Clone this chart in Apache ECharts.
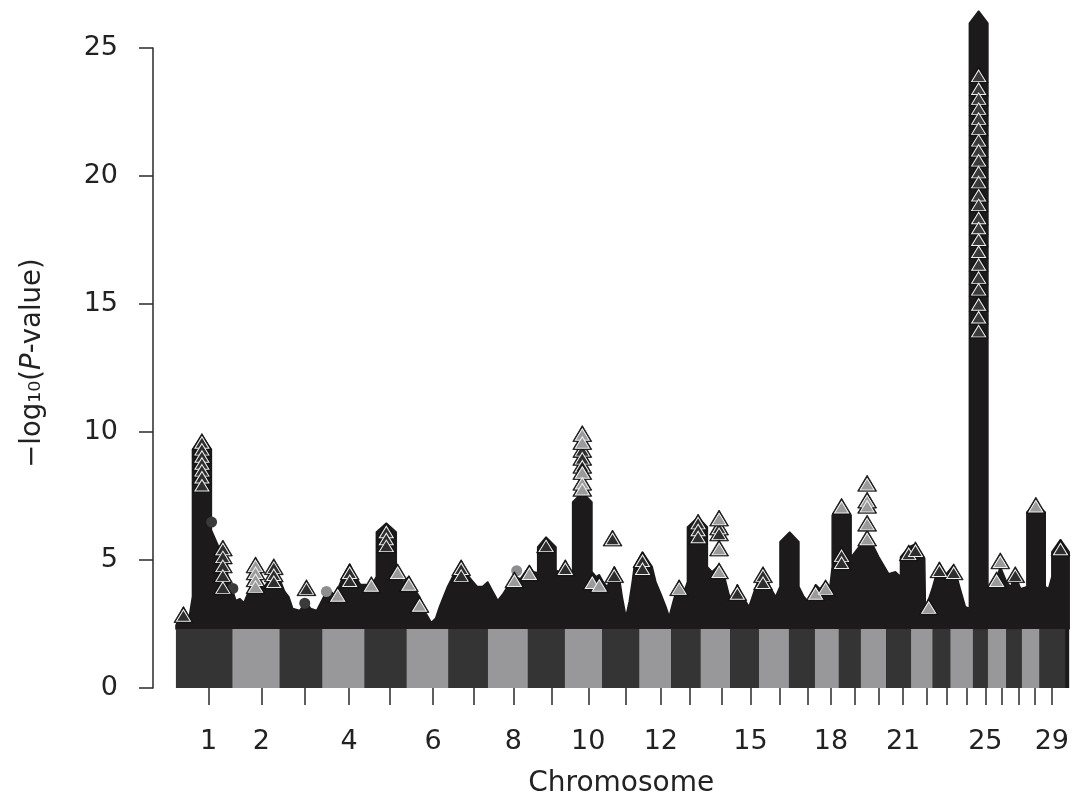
<!DOCTYPE html>
<html>
<head>
<meta charset="utf-8">
<script src="https://cdn.jsdelivr.net/npm/echarts@6/dist/echarts.min.js"></script>
<style>
html,body{margin:0;padding:0;background:#ffffff;}
#chart{width:1072px;height:803px;}
</style>
</head>
<body>
<div id="chart"></div>
<script>
// ---- Data (x: cumulative genome position index, y: -log10(P-value)) ----
const chromosomes = [1,2,3,4,5,6,7,8,9,10,11,12,13,14,15,16,17,18,19,20,21,22,23,24,25,26,27,28,29];
const chrStart = [23,79.5,127,169.5,212,254,296,335.5,375.5,412.5,450,487,519,548.5,578,607,637,663,687,709,734.3,759.3,781,798.7,821.3,836.3,854.7,870.3,888];
const chrEnd   = [79.5,127,169.5,212,254,296,335.5,375.5,412.5,450,487,519,548.5,578,607,637,663,687,709,734.3,759.3,781,798.7,821.3,836.3,854.7,870.3,888,913.7];
const tickPos  = [55.7,108.5,152.5,196.5,237.6,280.5,321,360.9,399,436,473.5,508.7,538,569.2,598.5,627.9,655.5,679,703,727,751.3,774.7,795.3,815.3,833.7,850.3,867,883,900.3];
const labelledChromosomes = [1,2,4,6,8,10,12,15,18,21,25,29];
const yTicks = [0,5,10,15,20,25];
// dense low-significance SNPs form a band from 0 up to this value
const bandValue = 2.3;

// upper envelope of the dense SNP cloud above the band
const skyline = [[23,2.29],[23,2.45],[30.5,3.14],[36,2.72],[39.5,3.57],[39.5,9.32],[49,9.86],[58.5,9.32],[58.5,6.17],[65,5.59],[73,4.66],[83,3.42],[87,3.49],[91,3.34],[97,3.88],[103,4.43],[110,3.88],[115,4.15],[121,4.93],[128,4.15],[132,3.77],[136,3.57],[140,3.11],[147,3.03],[153,3.38],[158,3.11],[164,3.03],[171,3.57],[177,3.84],[181,3.65],[186,3.96],[191,4.43],[197,4.85],[203,4.35],[208,4.04],[213.7,4.04],[218,3.96],[223.7,4.35],[223.7,6.09],[233.7,6.44],[243.7,6.09],[243.7,4.54],[248,4.35],[251,4.15],[256.3,4.35],[262,3.88],[267,3.57],[273.7,2.91],[278.7,2.56],[283,2.72],[287,3.18],[295,3.96],[302,4.50],[308.7,4.97],[315,4.43],[319,4.23],[325,3.96],[330,3.96],[335.3,4.15],[340,3.80],[345.3,3.42],[350,3.65],[355,3.96],[362,4.35],[368,4.27],[377,4.77],[381,4.54],[385.3,4.5],[385.3,5.51],[393.7,5.90],[403.7,5.51],[403.7,4.6],[407,4.54],[413,4.97],[418,4.54],[420.3,4.54],[420.3,7.26],[430,7.65],[439.7,7.26],[439.7,4.54],[444,4.35],[447,4.43],[451,4.15],[455,3.96],[462,4.74],[467,4.35],[470,3.57],[473.7,2.80],[477,3.38],[480,4.15],[482,4.74],[490.3,5.32],[500,4.74],[503.7,4.15],[509,3.65],[513.7,3.18],[517,2.80],[521,3.38],[527,4.19],[532,3.77],[535.3,4.15],[535.3,6.29],[546,6.68],[555.3,6.29],[555.3,4.74],[560,4.54],[567,4.81],[572,4.43],[577,3.65],[580,3.34],[585.3,4.04],[591,3.57],[597,3.18],[603,3.88],[611,4.66],[618,3.96],[623.7,3.57],[628,3.96],[628,5.71],[637.7,6.09],[647,5.71],[647,3.96],[652,3.57],[657,3.34],[663.7,4.04],[668,3.88],[673.7,4.15],[678,3.96],[680.3,4.74],[680.3,6.75],[689.7,7.14],[699.3,6.75],[699.3,5.12],[707,5.51],[715.3,6.02],[722,5.51],[727,5.12],[737,4.46],[743.7,4.54],[748.7,4.35],[748.7,5.12],[757,5.51],[763.7,5.63],[773,5.05],[773.7,3.18],[777,3.49],[781,3.96],[787.7,4.89],[794,4.43],[802,4.81],[808,3.96],[813.7,3.18],[817.7,3.11],[817.7,25.97],[827,26.45],[836.3,25.97],[836.3,3.96],[842,3.96],[848.7,4.74],[855,4.15],[859,3.96],[863.7,4.43],[869,3.88],[875.3,3.96],[875.3,6.87],[884.3,7.18],[893.7,6.87],[893.7,3.96],[897,3.88],[900.3,4.35],[900.3,5.32],[909,5.80],[917.7,5.32],[917.7,2.29]];

// individually visible SNP markers (triangles)
const darkTriangles = [[30.5,2.87],[49,9.63],[49,9.36],[49,9.08],[49,8.81],[49,8.54],[49,8.27],[49,7.96],[70,5.47],[70,5.16],[70,4.81],[70,4.43],[70,3.96],[121,4.74],[121,4.46],[121,4.19],[153.7,3.92],[197,4.54],[197,4.23],[233.7,6.13],[233.7,5.86],[233.7,5.59],[308.7,4.70],[308.7,4.43],[393.7,5.59],[413,4.70],[430,9.32],[430,9.01],[430,8.70],[460.3,5.86],[462,4.43],[490.3,5.01],[490.3,4.70],[546,6.48],[546,6.21],[546,5.94],[567,6.29],[567,6.06],[585.3,3.73],[611,4.43],[611,4.15],[689.7,5.20],[689.7,4.93],[757,5.28],[763.7,5.40],[787.7,4.62],[802,4.54],[863.7,4.43],[909,5.47]];
const grayTriangles = [[102.7,4.81],[102.7,4.54],[102.7,4.27],[102.7,4.00],[185,3.65],[218.7,4.04],[245,4.54],[256.3,4.08],[267,3.26],[362,4.23],[377,4.50],[430,9.94],[430,9.63],[430,8.46],[430,8.04],[430,7.80],[440,4.15],[447,4.04],[527,3.92],[567,6.64],[567,5.47],[567,4.58],[663.7,3.73],[673.7,3.92],[689.7,7.10],[715.3,8.00],[715.3,7.34],[715.3,7.14],[715.3,6.44],[715.3,5.86],[777,3.18],[845,4.23],[848.7,4.97],[884.3,7.14]];
const spikePos = 827;
const spikeValues = [23.95,23.45,23.06,22.67,22.28,21.89,21.43,21.04,20.65,20.19,19.80,19.29,18.91,18.40,18.01,17.55,17.08,16.58,16.07,15.61,15.02,14.52,13.98];
const darkDots = [[58.7,6.48],[80,3.89],[152,3.31]];
const grayDots = [[173.7,3.77],[364.3,4.58]];

// ---- Styles ----
const FONT = 'DejaVu Sans';
const TEXT = '#222222';
const MASS = '#1c1a1b';
const BAND_DARK = '#343434';
const BAND_LIGHT = '#98989b';
const OUTER = [19, 16];
const INNER = [14, 11.5];

const chart = echarts.init(document.getElementById('chart'), null, {renderer: 'canvas'});

const bandData = chromosomes.map((c, i) => [chrStart[i], chrEnd[i], bandValue, i]);

function triangleSeries(name, data, fill, z) {
  return [
    {
      name: name + '-outline',
      type: 'scatter',
      data: data,
      symbol: 'triangle',
      symbolSize: OUTER,
      clip: false,
      z: z,
      itemStyle: {color: '#141414', borderColor: '#141414', borderWidth: 0.8, opacity: 1}
    },
    {
      name: name,
      type: 'scatter',
      data: data,
      symbol: 'triangle',
      symbolSize: INNER,
      symbolOffset: [0, 1],
      clip: false,
      z: z,
      itemStyle: {color: fill, borderColor: '#eeeeee', borderWidth: 1, opacity: 1}
    }
  ];
}

const option = {
  animation: false,
  backgroundColor: '#ffffff',
  grid: {left: 153, right: 1, top: 48, bottom: 111, containLabel: false},
  xAxis: {
    type: 'value',
    min: 0,
    max: 918,
    axisLine: {show: false},
    splitLine: {show: false},
    axisTick: {
      show: true,
      customValues: tickPos,
      length: 17,
      lineStyle: {color: '#2a2a2a', width: 1.5}
    },
    axisLabel: {
      show: true,
      customValues: labelledChromosomes.map(c => tickPos[c - 1]),
      formatter: function (v) {
        let best = 0;
        for (let i = 0; i < tickPos.length; i++) {
          if (Math.abs(tickPos[i] - v) < Math.abs(tickPos[best] - v)) best = i;
        }
        return String(chromosomes[best]);
      },
      margin: 40,
      fontSize: 27,
      fontFamily: FONT,
      color: TEXT,
      hideOverlap: false
    },
    name: 'Chromosome',
    nameLocation: 'middle',
    nameGap: 82,
    nameTextStyle: {fontSize: 28, fontFamily: FONT, color: TEXT, padding: [0, 0, 0, 20]}
  },
  yAxis: {
    type: 'value',
    min: 0,
    max: 25,
    interval: 5,
    axisLine: {show: true, lineStyle: {color: '#2a2a2a', width: 1.5}},
    axisTick: {show: true, length: 14, lineStyle: {color: '#2a2a2a', width: 1.5}},
    splitLine: {show: false},
    axisLabel: {
      formatter: function (v) { return yTicks.indexOf(v) >= 0 ? String(v) : ''; },
      margin: 35,
      fontSize: 27,
      fontFamily: FONT,
      color: TEXT
    },
    name: '\u2212log\u2081\u2080({p|P}-value)',
    nameLocation: 'middle',
    nameRotate: 90,
    nameGap: 106,
    nameTextStyle: {
      fontSize: 27.5,
      fontFamily: FONT,
      color: TEXT,
      padding: [0, 0, 0, 10],
      rich: {p: {fontSize: 27.5, fontFamily: FONT, fontStyle: 'italic', color: TEXT}}
    }
  },
  series: [
    {
      name: 'mass',
      type: 'line',
      data: skyline,
      symbol: 'none',
      clip: false,
      z: 2,
      lineStyle: {color: MASS, width: 1.5},
      areaStyle: {color: MASS, opacity: 1},
      silent: true
    },
    {
      name: 'band',
      type: 'custom',
      data: bandData,
      z: 3,
      clip: false,
      renderItem: function (params, api) {
        const p0 = api.coord([api.value(0), 0]);
        const p1 = api.coord([api.value(1), api.value(2)]);
        const idx = api.value(3);
        return {
          type: 'rect',
          shape: {x: p0[0], y: p1[1], width: p1[0] - p0[0], height: p0[1] - p1[1]},
          style: {fill: idx % 2 === 0 ? BAND_DARK : BAND_LIGHT}
        };
      }
    }
  ]
  .concat(triangleSeries('spike', spikeValues.map(v => [spikePos, v]), '#3a3a3a', 4))
  .concat(triangleSeries('dark', darkTriangles, '#2e2e2e', 5))
  .concat(triangleSeries('gray', grayTriangles, '#9a9a9c', 6))
  .concat([
    {
      name: 'darkDots',
      type: 'scatter',
      data: darkDots,
      symbol: 'circle',
      symbolSize: 11,
      clip: false,
      z: 4,
      itemStyle: {color: '#3a3a3a', opacity: 1}
    },
    {
      name: 'grayDots',
      type: 'scatter',
      data: grayDots,
      symbol: 'circle',
      symbolSize: 11,
      clip: false,
      z: 4,
      itemStyle: {color: '#8e8e90', opacity: 1}
    }
  ])
};
chart.setOption(option);
</script>
</body>
</html>
